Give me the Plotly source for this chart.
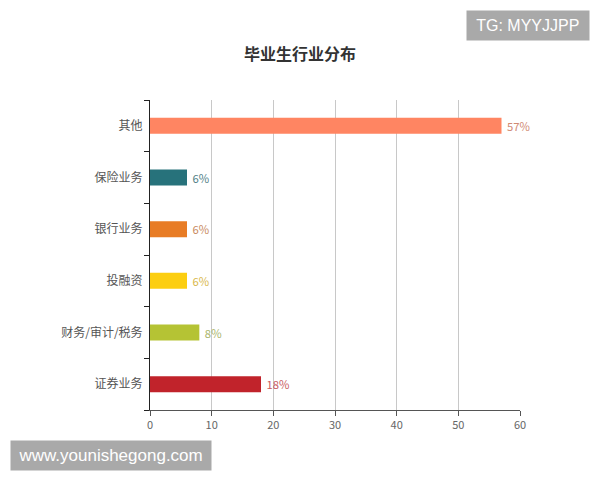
import plotly.graph_objects as go

categories = ["证券业务", "财务/审计/税务", "投融资", "银行业务", "保险业务", "其他"]
values = [18, 8, 6, 6, 6, 57]
labels = ["18%", "8%", "6%", "6%", "6%", "57%"]
bar_colors = ["#C1232B", "#B5C334", "#FCCE10", "#E87C25", "#27727B", "#FF8562"]
label_colors = ["#C95A60", "#A9B56A", "#D9B84A", "#C98A5E", "#4F8086", "#D08A74"]
x_ticks = [0, 10, 20, 30, 40, 50, 60]

font_family = "Noto Sans CJK SC, Noto Sans, sans-serif"

fig = go.Figure()
fig.add_trace(go.Bar(
    y=categories, x=values, orientation="h",
    marker=dict(color=bar_colors, line=dict(width=0)),
    width=0.31,
    text=["\u00a0" + t for t in labels], textposition="outside",
    textfont=dict(color=label_colors, size=12, family=font_family),
    cliponaxis=False,
    hoverinfo="skip",
))

fig.update_layout(
    width=600, height=480,
    paper_bgcolor="white", plot_bgcolor="white",
    margin=dict(l=150, r=80, t=100, b=70),
    showlegend=False,
    font=dict(family=font_family, size=12, color="#333"),
    title=dict(text="<b>毕业生行业分布</b>", x=0.5, xanchor="center", y=0.886, yanchor="middle",
               font=dict(size=16, color="#333", family=font_family)),
    xaxis=dict(
        range=[0, 60], tickvals=x_ticks, ticks="outside", ticklen=5, tickcolor="#555",
        showgrid=True, gridcolor="#c8c8c8", gridwidth=1, zeroline=False,
        showline=True, linecolor="#555", linewidth=1,
        tickfont=dict(size=11, color="#666"),
        automargin=False,
    ),
    yaxis=dict(
        type="category", categoryorder="array", categoryarray=categories,
        tickson="boundaries", ticks="outside", ticklen=5, tickcolor="#222",
        showline=True, linecolor="#222", linewidth=1, showgrid=False,
        tickfont=dict(size=12, color="#555"),
        ticklabelstandoff=4,
        automargin=False,
    ),
    annotations=[
        dict(text="\u2009TG: MYYJJPP\u2009", xref="paper", yref="paper", x=1.189, y=1.29,
             xanchor="right", yanchor="top", showarrow=False,
             bgcolor="#a9a9a9", font=dict(color="white", size=16, family="Liberation Sans, Arial"),
             borderpad=6),
        dict(text="\u2009www.younishegong.com\u2009", xref="paper", yref="paper", x=-0.378, y=-0.097,
             xanchor="left", yanchor="top", showarrow=False,
             bgcolor="#a9a9a9", font=dict(color="white", size=17, family="Liberation Sans, Arial"),
             borderpad=5),
    ],
)

fig.write_html("out.html", config={"displayModeBar": False},
               post_script="document.body.style.margin='0';document.body.style.padding='0';")
